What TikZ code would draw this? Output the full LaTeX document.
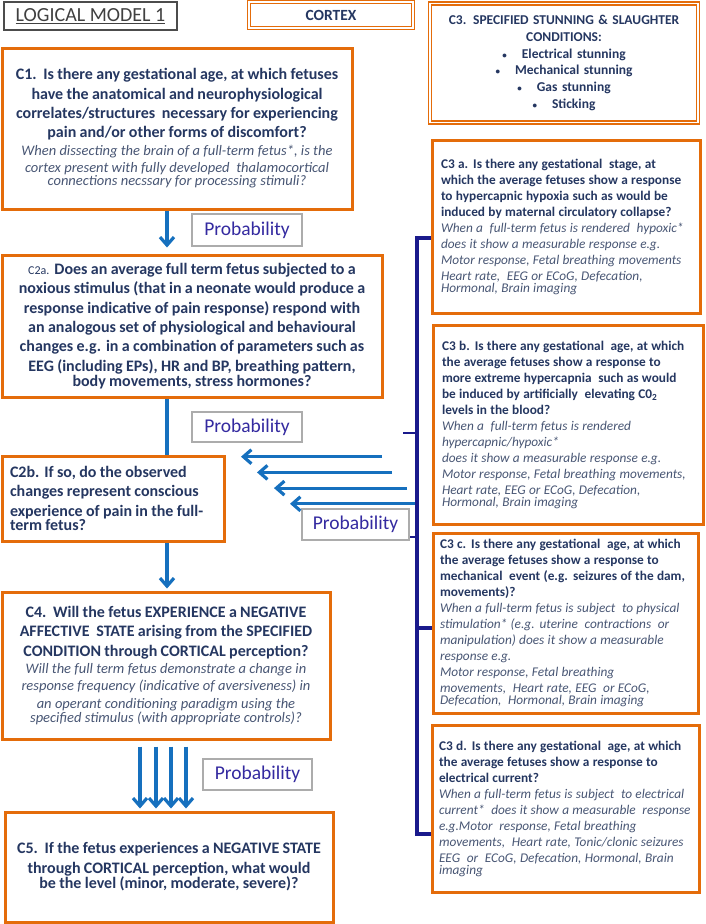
\documentclass[tikz,border=0pt]{standalone}
\usepackage{fontspec}
\setmainfont{Carlito}
\usetikzlibrary{arrows.meta}

\definecolor{qorange}{RGB}{228,108,10}
\definecolor{qnavy}{RGB}{37,55,97}
\definecolor{qgray}{RGB}{72,86,116}
\definecolor{qblue}{RGB}{22,112,190}
\definecolor{qbrace}{RGB}{26,26,140}
\definecolor{qprob}{RGB}{52,42,160}

\newcommand{\bigbold}{\bfseries\fontsize{16}{19.3}\selectfont}
\newcommand{\bigital}{\color{qgray}\mdseries\itshape\fontsize{14.5}{17.3}\selectfont}
\newcommand{\smallbold}{\bfseries\fontsize{13.3}{16}\selectfont}
\newcommand{\smallital}{\color{qgray}\mdseries\itshape\fontsize{13.3}{16}\selectfont}
\newcommand{\smallbullet}{{\fontsize{9}{9}\selectfont\textbullet}\hspace{15pt}}

\tikzset{
  qbox/.style={draw=qorange, line width=3pt, fill=white, text=qnavy, inner sep=0pt, align=center},
  subbox/.style={qbox, align=left},
  dblbox/.style={draw=qorange, line width=1.6pt, double=white, double distance=1.6pt, fill=white, text=qnavy, inner sep=0pt, align=center},
  probbox/.style={draw=gray!65, line width=2.8pt, fill=white, text=qprob, inner sep=0pt, font=\fontsize{19.5}{22}\selectfont},
  flow/.style={draw=qblue, line width=3.2pt, -{Straight Barb[length=8pt,width=14pt]}},
  bracket/.style={draw=qbrace, line width=3.4pt}
}

\begin{document}
\begin{tikzpicture}[x=1pt, y=-1pt]
  \useasboundingbox (0,0) rectangle (705,924);

  % headings
  \node[draw=black!70, line width=1.1pt, minimum width=173pt, minimum height=28pt, inner sep=0pt, text=black!75, font=\fontsize{20}{22}\selectfont] (title) at (90.5,16) {\underline{LOGICAL MODEL 1}};
  \node[dblbox, minimum width=164pt, minimum height=26pt, font=\bfseries\fontsize{15.5}{17}\selectfont] (cortex) at (331,15) {CORTEX};
  \node[dblbox, minimum width=268pt, minimum height=119pt, text width=260pt, font=\bfseries\fontsize{13.5}{16.7}\selectfont] (c3) at (564,63) {C3. SPECIFIED STUNNING \& SLAUGHTER\\ CONDITIONS:\\ \smallbullet Electrical stunning\\ \smallbullet Mechanical stunning\\ \smallbullet Gas stunning\\ \smallbullet Sticking};

  % main chain
  \node[qbox, minimum width=350pt, minimum height=161pt, text width=344pt] (c1) at (177,128.5) {\bigbold C1.\ \ Is there any gestational age, at which fetuses\\ have the anatomical and neurophysiological\\ correlates/structures\ \ necessary for experiencing\\ pain and/or other forms of discomfort?\par
    \bigital When dissecting the brain of a full-term fetus*, is the\\ cortex present with fully developed\ \ thalamocortical\\ connections necssary for processing stimuli?};
  \node[qbox, minimum width=380pt, minimum height=142pt, text width=374pt] (c2a) at (192,326) {\bigbold {\mdseries\fontsize{12}{14}\selectfont C2a.} Does an average full term fetus subjected to a\\ noxious stimulus (that in a neonate would produce a\\ response indicative of pain response) respond with\\ an analogous set of physiological and behavioural\\ changes e.g. in a combination of parameters such as\\ EEG (including EPs), HR and BP, breathing pattern,\\ body movements, stress hormones?};
  \node[qbox, align=left, minimum width=222pt, minimum height=85pt, text width=206pt] (c2b) at (113,498.5) {\bigbold C2b. If so, do the observed\\ changes represent conscious\\ experience of pain in the full-\\ term fetus?};
  \node[qbox, minimum width=328pt, minimum height=147pt, text width=324pt] (c4) at (166,665.5) {\bigbold C4.\ \ Will the fetus EXPERIENCE a NEGATIVE\\ AFFECTIVE\ \ STATE arising from the SPECIFIED\\ CONDITION through CORTICAL perception?\par
    \bigital Will the full term fetus demonstrate a change in\\ response frequency (indicative of aversiveness) in\\ an operant conditioning paradigm using the\\ specified stimulus (with appropriate controls)?};
  \node[qbox, minimum width=328pt, minimum height=110pt, text width=320pt] (c5) at (169,867) {\bigbold C5.\ \ If the fetus experiences a NEGATIVE STATE\\ through CORTICAL perception, what would\\ be the level (minor, moderate, severe)?};

  % stunning conditions
  \node[subbox, minimum width=268pt, minimum height=173pt, text width=250pt] (c3a) at (566,226.5) {\smallbold C3 a. Is there any gestational\ \ stage, at\\ which the average fetuses show a response\\ to hypercapnic hypoxia such as would be\\ induced by maternal circulatory collapse?\par
    \smallital When a\ \ full-term fetus is rendered\ \ hypoxic*\\ does it show a measurable response e.g.\\ Motor response, Fetal breathing movements\\ Heart rate,\ \ EEG or ECoG, Defecation,\\ Hormonal, Brain imaging};
  \node[subbox, minimum width=270pt, minimum height=199pt, text width=252pt] (c3b) at (568,424.5) {\smallbold C3 b. Is there any gestational\ \ age, at which\\ the average fetuses show a response to\\ more extreme hypercapnia\ \ such as would\\ be induced by artificially\ \ elevating C0\textsubscript{2}\\ levels in the blood?\par
    \smallital When a\ \ full-term fetus is rendered\\ hypercapnic/hypoxic*\\ does it show a measurable response e.g.\\ Motor response, Fetal breathing movements,\\ Heart rate, EEG or ECoG, Defecation,\\ Hormonal, Brain imaging};
  \node[subbox, minimum width=265pt, minimum height=180pt, text width=251pt] (c3c) at (565.5,623) {\smallbold C3 c. Is there any gestational\ \ age, at which\\ the average fetuses show a response to\\ mechanical\ \ event (e.g. seizures of the dam,\\ movements)?\par
    \smallital When a full-term fetus is subject\ \ to physical\\ stimulation* (e.g. uterine\ \ contractions\ \ or\\ manipulation) does it show a measurable\\ response e.g.\\ Motor response, Fetal breathing\\ movements,\ \ Heart rate, EEG\ \ or ECoG,\\ Defecation,\ \ Hormonal, Brain imaging};
  \node[subbox, minimum width=267pt, minimum height=167pt, text width=253pt] (c3d) at (565.5,808.5) {\smallbold C3 d. Is there any gestational\ \ age, at which\\ the average fetuses show a response to\\ electrical current?\par
    \smallital When a full-term fetus is subject\ \ to electrical\\ current*\ \ does it show a measurable\ \ response\\ e.g.Motor\ \ response, Fetal breathing\\ movements,\ \ Heart rate, Tonic/clonic seizures\\ EEG\ \ or\ \ ECoG, Defecation, Hormonal, Brain\\ imaging};

  % probability labels
  \node[probbox, minimum width=110pt, minimum height=32pt] (p1) at (247,230) {Probability};
  \node[probbox, minimum width=110pt, minimum height=30pt] (p2) at (247,427) {Probability};
  \node[probbox, minimum width=107pt, minimum height=31pt] (p3) at (355.5,524.5) {Probability};
  \node[probbox, minimum width=109pt, minimum height=31pt] (p4) at (257.5,774.5) {Probability};

  % arrows down the left column
  \coordinate (spine) at (167,0);
  \draw[flow, shorten >=6pt] (c1.south -| spine) -- (c2a.north -| spine);
  \draw[draw=qblue, line width=3.2pt] (c2a.south -| spine) -- (c2b.north -| spine);
  \draw[flow, shorten >=2pt] (c2b.south -| spine) -- (c4.north -| spine);
  \foreach \x in {140,156,171,186} {
    \draw[flow, shorten <=6pt, shorten >=2pt] (c4.south -| \x,0) -- (c5.north -| \x,0);
  }

  % arrows from the conditions
  \foreach \xs/\xe [count=\i, evaluate=\i as \y using 441+\i*15.7] in {382/241,392/257,407/274,415/290} {
    \coordinate (hs\i) at (\xs,\y);
    \coordinate (he\i) at (\xe,\y);
    \draw[flow] (hs\i) -- (he\i);
  }

  % bracket
  \coordinate (btop) at (417,238);
  \coordinate (bbot) at (417,834);
  \draw[bracket] (c3a.west |- btop) -- (btop) -- (bbot) -- (c3d.west |- bbot);
  \draw[bracket] (btop |- 0,628) -- (c3c.west |- 0,628);
  \draw[bracket, line width=2.2pt] (btop |- 0,433) -- (403,433);
  \draw[bracket, line width=2.2pt] (btop |- 0,537) -- (p3.east |- 0,537);
\end{tikzpicture}
\end{document}
